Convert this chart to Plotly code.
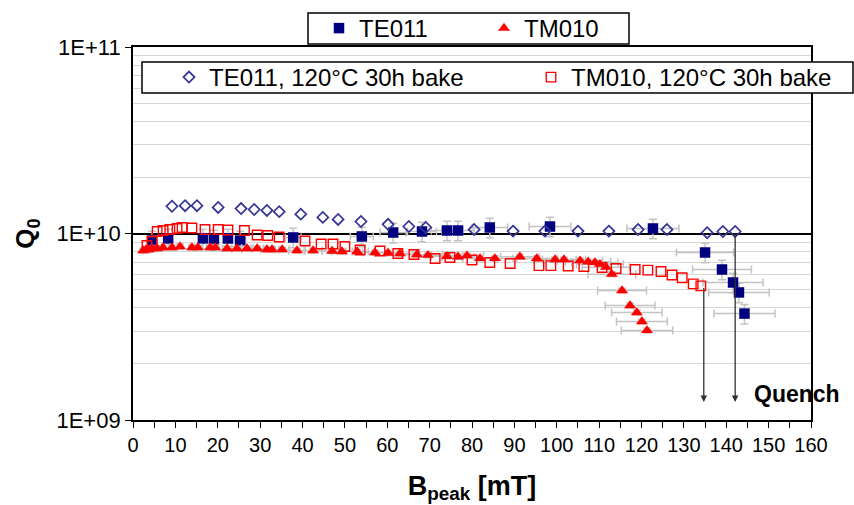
import math
import plotly.graph_objects as go

# ---- Data ----
# TE011 (unbaked), filled navy squares
te011_b = [4.5, 8.3, 16.5, 19.1, 22.4, 25.3, 37.8, 54.0, 61.4, 68.2, 74.1, 76.7, 84.2, 98.4, 122.7, 135.0, 139.0, 141.6, 143.0, 144.3]
te011_q = [9.17e9, 9.40e9, 9.40e9, 9.29e9, 9.40e9, 9.17e9, 9.52e9, 9.64e9, 1.012e10, 1.025e10, 1.038e10, 1.038e10, 1.077e10, 1.09e10, 1.064e10, 7.91e9, 6.41e9, 5.46e9, 4.83e9, 3.72e9]

# TM010 (unbaked), filled red triangles
tm010_b = [2.4, 3.1, 3.8, 4.5, 5.7, 7.1, 9.2, 11.1, 13.9, 15.3, 18.2, 19.4, 22.2, 24.5, 26.9, 29.3, 31.6, 32.8, 35.2, 38.7,
           42.5, 47.0, 49.3, 52.9, 57.1, 60.2, 63.0, 67.0, 69.6, 74.1, 76.7, 78.8, 81.9, 85.4, 91.3, 95.3, 99.6, 101.7, 105.5,
           107.4, 109.0, 110.2, 111.6, 113.0, 115.4, 117.3, 118.9, 120.1, 121.3]
tm010_q = [8.1e9, 8.2e9, 8.2e9, 8.3e9, 8.3e9, 8.4e9, 8.4e9, 8.5e9, 8.4e9, 8.4e9, 8.4e9, 8.4e9, 8.3e9, 8.3e9, 8.3e9, 8.3e9, 8.2e9, 8.2e9, 8.2e9, 8.1e9,
           8.1e9, 8.05e9, 8.0e9, 8.0e9, 7.9e9, 7.85e9, 7.8e9, 7.7e9, 7.65e9, 7.55e9, 7.5e9, 7.6e9, 7.35e9, 7.35e9, 7.5e9, 7.35e9, 7.25e9, 7.25e9, 7.15e9,
           7.05e9, 7.0e9, 6.85e9, 6.6e9, 6.05e9, 4.94e9, 4.11e9, 3.77e9, 3.37e9, 3.02e9]

# TE011, 120°C 30h bake, open diamonds
te011_bake_b = [9.2, 12.3, 15.1, 20.1, 25.5, 28.6, 31.6, 34.5, 39.6, 44.8, 48.4, 53.8, 60.2, 65.1, 69.1, 80.5, 89.7, 97.2, 105.0, 112.3, 119.2, 126.0, 135.5, 139.2, 142.1]
te011_bake_q = [1.40e10, 1.41e10, 1.41e10, 1.38e10, 1.36e10, 1.345e10, 1.33e10, 1.31e10, 1.27e10, 1.22e10, 1.19e10, 1.16e10, 1.12e10, 1.09e10, 1.077e10,
                1.05e10, 1.03e10, 1.03e10, 1.03e10, 1.03e10, 1.05e10, 1.05e10, 1.01e10, 1.025e10, 1.025e10]

# TM010, 120°C 30h bake, open red squares
tm010_bake_b = [3.3, 4.5, 5.7, 7.1, 8.7, 10.4, 11.6, 13.9, 17.0, 20.1, 22.4, 26.3, 29.3, 31.8, 34.5, 40.6, 44.4, 47.2, 50.0, 53.6,
                58.3, 62.5, 66.3, 71.3, 74.8, 80.0, 84.2, 89.0, 95.8, 98.6, 102.7, 106.4, 110.7, 114.0, 118.5, 121.5, 124.6, 127.2, 129.6, 132.2, 134.0]
tm010_bake_q = [8.63e9, 9.06e9, 1.025e10, 1.038e10, 1.05e10, 1.064e10, 1.077e10, 1.07e10, 1.05e10, 1.05e10, 1.044e10, 1.038e10, 9.82e9, 9.76e9, 9.58e9, 9.12e9, 8.79e9, 8.79e9, 8.52e9, 8.16e9,
                8.06e9, 7.81e9, 7.72e9, 7.35e9, 7.44e9, 7.21e9, 6.99e9, 6.90e9, 6.73e9, 6.73e9, 6.69e9, 6.65e9, 6.57e9, 6.49e9, 6.41e9, 6.36e9, 6.25e9, 5.99e9, 5.79e9, 5.37e9, 5.24e9]

# Quench arrows: (B, Q start, Q end)
quench_b = [134.7, 142.1]
quench_q_from = [5.2e9, 1.02e10]
quench_q_to = [1.25e9, 1.25e9]

x_ticks = list(range(0, 161, 10))
y_tickvals = [1e9, 1e10, 1e11]
y_ticktext = ["1E+09", "1E+10", "1E+11"]
y_minor = [m * 10 ** e for e in (9, 10) for m in range(2, 10)]

FONT = "Liberation Sans, Arial, sans-serif"
ERR = "#c3c3c3"
W, H = 854, 505
L, R, T, B = 133, 43, 47, 85
PW, PH = W - L - R, H - T - B


def px2paper_x(px):
    return (px - L) / PW


def px2paper_y(py):
    return (H - B - py) / PH


fig = go.Figure()

fig.add_trace(go.Scatter(
    x=te011_b, y=te011_q, mode="markers", name="TE011", legend="legend",
    marker=dict(symbol="square", size=10.5, color="#000080"),
    error_x=dict(type="percent", value=5, color=ERR, thickness=1.5, width=4),
    error_y=dict(type="percent", value=12, color=ERR, thickness=1.5, width=4),
))
fig.add_trace(go.Scatter(
    x=tm010_b, y=tm010_q, mode="markers", name="TM010", legend="legend2",
    marker=dict(symbol="triangle-up", size=10.5, color="#ff0000"),
    error_x=dict(type="percent", value=5, color=ERR, thickness=1.5, width=4),
    error_y=dict(type="percent", value=3, color=ERR, thickness=1.5, width=4),
))
fig.add_trace(go.Scatter(
    x=te011_bake_b, y=te011_bake_q, mode="markers", name="TE011, 120°C 30h bake", legend="legend3",
    marker=dict(symbol="diamond-open", size=8.5, color="#333399", line=dict(width=1.7, color="#333399")),
))
fig.add_trace(go.Scatter(
    x=tm010_bake_b, y=tm010_bake_q, mode="markers", name="TM010, 120°C 30h bake", legend="legend4",
    marker=dict(symbol="square-open", size=9.5, color="#ff0000", line=dict(width=1.4, color="#ff0000")),
))

for b, q0, q1 in zip(quench_b, quench_q_from, quench_q_to):
    fig.add_annotation(
        x=b, y=math.log10(q1), ax=b, ay=math.log10(q0),
        xref="x", yref="y", axref="x", ayref="y",
        showarrow=True, arrowhead=2, arrowsize=1.0, arrowwidth=1.3, arrowcolor="#303030", text="",
    )

fig.add_annotation(
    x=146.0, y=math.log10(1.38e9), xref="x", yref="y", xanchor="left", yanchor="middle",
    text="<b>Quench</b>", showarrow=False, font=dict(family=FONT, size=23, color="#000000"),
)

# legend frames (drawn as boxes, entries placed inside)
boxes = [(308, 13, 629, 44), (142, 62, 853, 93)]
for x0, y0, x1, y1 in boxes:
    fig.add_shape(
        type="rect", xref="paper", yref="paper", layer="above",
        x0=px2paper_x(x0), x1=px2paper_x(x1), y0=px2paper_y(y1), y1=px2paper_y(y0),
        line=dict(color="black", width=1.5), fillcolor="white",
    )


def leg(sym_px, row_py):
    return dict(
        orientation="h", xref="container", yref="container",
        x=(sym_px - 26) / W, y=1 - row_py / H, xanchor="left", yanchor="middle",
        borderwidth=0, bgcolor="rgba(0,0,0,0)",
        font=dict(family=FONT, size=24, color="black"), itemwidth=30,
    )


fig.update_layout(
    width=W, height=H,
    margin=dict(l=L, r=R, t=T, b=B, autoexpand=False),
    paper_bgcolor="white", plot_bgcolor="white",
    font=dict(family=FONT, size=19, color="black"),
    showlegend=True,
    legend=leg(345, 28.5),
    legend2=leg(510, 28.5),
    legend3=leg(195, 77.5),
    legend4=leg(557, 77.5),
    xaxis=dict(
        range=[0, 160], tickmode="array", tickvals=x_ticks,
        ticks="outside", ticklen=6, tickwidth=1.3, tickcolor="black",
        minor=dict(dtick=5, ticks="outside", ticklen=6, tickwidth=1.3, tickcolor="black", showgrid=False),
        showline=True, linecolor="black", linewidth=1.8, mirror=True,
        showgrid=False, zeroline=False,
        tickfont=dict(family=FONT, size=20),
        title=dict(text="<b>B<sub>peak</sub> [mT]</b>", font=dict(family=FONT, size=27), standoff=21),
    ),
    yaxis=dict(
        type="log", range=[9, 11], tickmode="array", tickvals=y_tickvals, ticktext=y_ticktext,
        ticks="outside", ticklen=6, tickwidth=1.3, tickcolor="black",
        showline=True, linecolor="black", linewidth=1.8, mirror=True,
        showgrid=True, gridcolor="black", gridwidth=1.5,
        minor=dict(tickmode="array", tickvals=y_minor, showgrid=True, gridcolor="#d6d6d6", gridwidth=1.2, ticks=""),
        zeroline=False,
        tickfont=dict(family=FONT, size=22),
        title=dict(text="<b>Q<sub>0</sub></b>", font=dict(family=FONT, size=26), standoff=14),
    ),
)

fig.write_html("out.html")
